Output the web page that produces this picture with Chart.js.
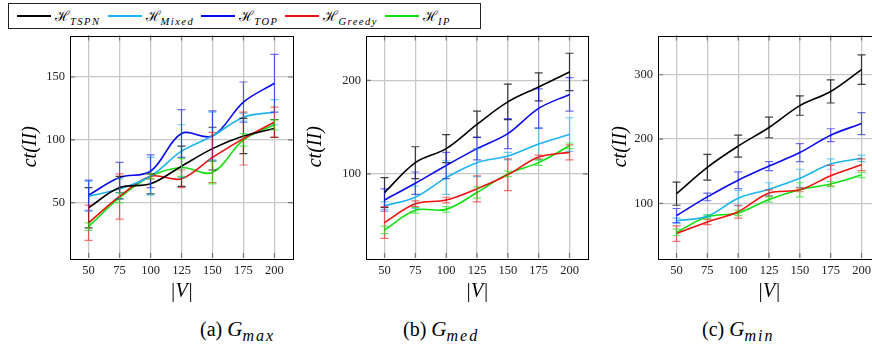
<!DOCTYPE html>
<html>
<head>
<meta charset="utf-8">
<script src="https://cdn.jsdelivr.net/npm/chart.js@4/dist/chart.umd.min.js"></script>
<style>
  html, body { margin: 0; padding: 0; background: #fff; }
  body { position: relative; width: 872px; height: 349px; overflow: hidden; font-family: 'Liberation Serif', serif; }
  .wrap { position: absolute; top: 23px; height: 285px; }
  #legend { position: absolute; left: 8px; top: 3px; width: 473px; height: 26px; border: 1px solid #222; box-sizing: border-box;
            display: flex; align-items: center; padding-left: 8px; font-size: 14px; }
  #legend .sw { display: inline-block; width: 34px; height: 2px; margin-right: 4px; }
  #legend .lab { margin-right: 7px; white-space: nowrap; }
  #legend sub { font-style: italic; font-size: 10.5px; letter-spacing: 1.5px; }
  .cap { position: absolute; top: 317px; font-size: 20px; white-space: nowrap; }
  .cap i { font-style: italic; font-size: 21px; }
  .cap sub { font-style: italic; font-size: 16px; letter-spacing: 2px; }
</style>
</head>
<body>
<div id="legend">
  <span class="sw" style="background:#000"></span><span class="lab">ℋ<sub>TSPN</sub></span>
  <span class="sw" style="background:#1cb4f0"></span><span class="lab">ℋ<sub>Mixed</sub></span>
  <span class="sw" style="background:#0a0af0"></span><span class="lab">ℋ<sub>TOP</sub></span>
  <span class="sw" style="background:#f01010"></span><span class="lab">ℋ<sub>Greedy</sub></span>
  <span class="sw" style="background:#10e010"></span><span class="lab">ℋ<sub>IP</sub></span>
</div>
<div class="wrap" style="left:10px;width:285px"><canvas id="gmax"></canvas></div>
<div class="wrap" style="left:290px;width:300px"><canvas id="gmed"></canvas></div>
<div class="wrap" style="left:598px;width:284px"><canvas id="gmin"></canvas></div>
<div class="cap" style="left:200px">(a) <i>G</i><sub>max</sub></div>
<div class="cap" style="left:403px">(b) <i>G</i><sub>med</sub></div>
<div class="cap" style="left:702px">(c) <i>G</i><sub>min</sub></div>
<script>
/* ===== data ===== */
const sizes = [50, 75, 100, 125, 150, 175, 200];

// (a) G_max
const maxTspn = [46, 62, 65, 79, 93, 103, 109];
const maxTspnErr = [16, 9, 8, 16, 17, 14, 7];
const maxMixed = [55, 61, 71, 91, 103, 118, 122];
const maxMixedErr = [12, 8, 15, 21, 19, 3, 10];
const maxTop = [56, 70, 75, 105, 103, 130, 145];
const maxTopErr = [12, 12, 13, 19, 20, 16, 23];
const maxGreedy = [34, 55, 71, 69, 86, 101, 114];
const maxGreedyErr = [14, 18, 2, 7, 20, 21, 12];
const maxIp = [31, 54, 71, 78, 74, 100, 112];
const maxIpErr = [3, 4, 2, 7, 9, 5, 4];

// (b) G_med
const medTspn = [80, 112, 127, 153, 177, 193, 209];
const medTspnErr = [16, 17, 15, 14, 19, 15, 20];
const medMixed = [66, 75, 96, 112, 119, 132, 142];
const medMixedErr = [4, 12, 18, 15, 4, 17, 18];
const medTop = [72, 90, 109, 127, 143, 170, 185];
const medTopErr = [12, 12, 14, 12, 16, 21, 18];
const medGreedy = [48, 68, 72, 84, 99, 118, 123];
const medGreedyErr = [17, 3, 3, 14, 17, 2, 8];
const medIp = [40, 61, 62, 80, 100, 112, 130];
const medIpErr = [4, 3, 3, 6, 3, 3, 3];

// (c) G_min
const minTspn = [115, 156, 189, 218, 252, 274, 308];
const minTspnErr = [18, 20, 17, 16, 15, 18, 23];
const minMixed = [73, 80, 108, 122, 139, 161, 170];
const minMixedErr = [4, 2, 12, 10, 14, 8, 5];
const minTop = [81, 110, 136, 158, 179, 206, 224];
const minTopErr = [11, 6, 13, 7, 14, 10, 17];
const minGreedy = [53, 71, 87, 116, 121, 143, 160];
const minGreedyErr = [12, 4, 10, 5, 3, 16, 9];
const minIp = [55, 79, 85, 106, 121, 130, 144];
const minIpErr = [5, 3, 4, 4, 11, 4, 4];

const maxTicks = [50, 100, 150];
const medTicks = [100, 200];
const minTicks = [100, 200, 300];

const C = {
    tspn: '#000000', mixed: '#1cb4f0', top: '#0a0af0', greedy: '#f01010', ip: '#10e010'
};
const errAlpha = { tspn: 'rgba(0,0,0,0.75)', mixed: 'rgba(28,180,240,0.65)', top: 'rgba(10,10,240,0.6)', greedy: 'rgba(240,16,16,0.6)', ip: 'rgba(16,224,16,0.6)' };

/* ===== plugin: error bars, frame, inner tick marks ===== */
const pgfLook = {
    id: 'pgfLook',
    afterDatasetsDraw(chart) {
        const ctx = chart.ctx, xs = chart.scales.x, ys = chart.scales.y;
        chart.data.datasets.forEach(ds => {
            ctx.save();
            ctx.strokeStyle = ds.errColor;
            ctx.lineWidth = 1.2;
            ds.data.forEach((p, i) => {
                const px = xs.getPixelForValue(p.x);
                const t = ys.getPixelForValue(p.y + ds.err[i]);
                const b = ys.getPixelForValue(p.y - ds.err[i]);
                ctx.beginPath();
                ctx.moveTo(px, t); ctx.lineTo(px, b);
                ctx.moveTo(px - 4, t); ctx.lineTo(px + 4, t);
                ctx.moveTo(px - 4, b); ctx.lineTo(px + 4, b);
                ctx.stroke();
            });
            ctx.restore();
        });
    },
    afterDraw(chart) {
        const ctx = chart.ctx, a = chart.chartArea, xs = chart.scales.x, ys = chart.scales.y;
        ctx.save();
        ctx.strokeStyle = '#777';
        ctx.lineWidth = 1.2;
        ctx.beginPath();
        xs.ticks.forEach(t => {
            const px = xs.getPixelForValue(t.value);
            ctx.moveTo(px, a.bottom); ctx.lineTo(px, a.bottom - 5);
            ctx.moveTo(px, a.top); ctx.lineTo(px, a.top + 5);
        });
        ys.ticks.forEach(t => {
            const py = ys.getPixelForValue(t.value);
            ctx.moveTo(a.left, py); ctx.lineTo(a.left + 5, py);
            ctx.moveTo(a.right, py); ctx.lineTo(a.right - 5, py);
        });
        ctx.stroke();
        ctx.strokeStyle = '#000';
        ctx.lineWidth = 1;
        ctx.strokeRect(Math.round(a.left) + 0.5, Math.round(a.top) + 0.5, Math.round(a.right - a.left), Math.round(a.bottom - a.top));
        ctx.restore();
    }
};

function series(label, vals, errs, key) {
    return {
        label, data: sizes.map((s, i) => ({ x: s, y: vals[i] })), err: errs,
        borderColor: C[key], errColor: errAlpha[key], borderWidth: 1.6,
        pointRadius: 0, tension: 0.35, fill: false
    };
}

const tickFont = { family: "'Liberation Serif', serif", size: 12.5 };
const gridOpts = { color: '#c8c8c8', lineWidth: 1.3, drawTicks: false };

function makeChart(id, sets, yMin, yMax, yTicks, yw, titlePad) {
    new Chart(document.getElementById(id), {
        type: 'line',
        data: { datasets: sets },
        options: {
            responsive: true, maintainAspectRatio: false, animation: false,
            layout: { padding: { top: 0, right: 2 } },
            plugins: { legend: { display: false }, tooltip: { enabled: false } },
            scales: {
                x: {
                    type: 'linear', min: 35, max: 215,
                    afterBuildTicks: s => { s.ticks = sizes.map(v => ({ value: v })); },
                    afterFit: s => { s.height = 50; },
                    grid: gridOpts, border: { display: false },
                    ticks: { color: '#222', font: tickFont, padding: 5, maxRotation: 0 },
                    title: { display: true, text: '|V|', color: '#000', padding: { top: 4, bottom: 4 },
                             font: { family: "'Liberation Serif', serif", size: 20, style: 'italic', lineHeight: 1.2 } }
                },
                y: {
                    min: yMin, max: yMax,
                    afterBuildTicks: s => { s.ticks = yTicks.map(v => ({ value: v })); },
                    afterFit: s => { s.width = yw; },
                    grid: gridOpts, border: { display: false },
                    ticks: { color: '#222', font: tickFont, padding: 5 },
                    title: { display: true, text: 'ct(II)', color: '#000', padding: { top: titlePad, bottom: 0 },
                             font: { family: "'Liberation Serif', serif", size: 20, style: 'italic', lineHeight: 1.2 } }
                }
            }
        },
        plugins: [pgfLook]
    });
}

makeChart('gmax', [
    series('H_TSPN', maxTspn, maxTspnErr, 'tspn'),
    series('H_Mixed', maxMixed, maxMixedErr, 'mixed'),
    series('H_TOP', maxTop, maxTopErr, 'top'),
    series('H_Greedy', maxGreedy, maxGreedyErr, 'greedy'),
    series('H_IP', maxIp, maxIpErr, 'ip')
], 6, 183, maxTicks, 60, 9);

makeChart('gmed', [
    series('H_TSPN', medTspn, medTspnErr, 'tspn'),
    series('H_Mixed', medMixed, medMixedErr, 'mixed'),
    series('H_TOP', medTop, medTopErr, 'top'),
    series('H_Greedy', medGreedy, medGreedyErr, 'greedy'),
    series('H_IP', medIp, medIpErr, 'ip')
], 10, 248, medTicks, 76, 14);

makeChart('gmin', [
    series('H_TSPN', minTspn, minTspnErr, 'tspn'),
    series('H_Mixed', minMixed, minMixedErr, 'mixed'),
    series('H_TOP', minTop, minTopErr, 'top'),
    series('H_Greedy', minGreedy, minGreedyErr, 'greedy'),
    series('H_IP', minIp, minIpErr, 'ip')
], 15, 361, minTicks, 60, 11);
</script>
</body>
</html>
